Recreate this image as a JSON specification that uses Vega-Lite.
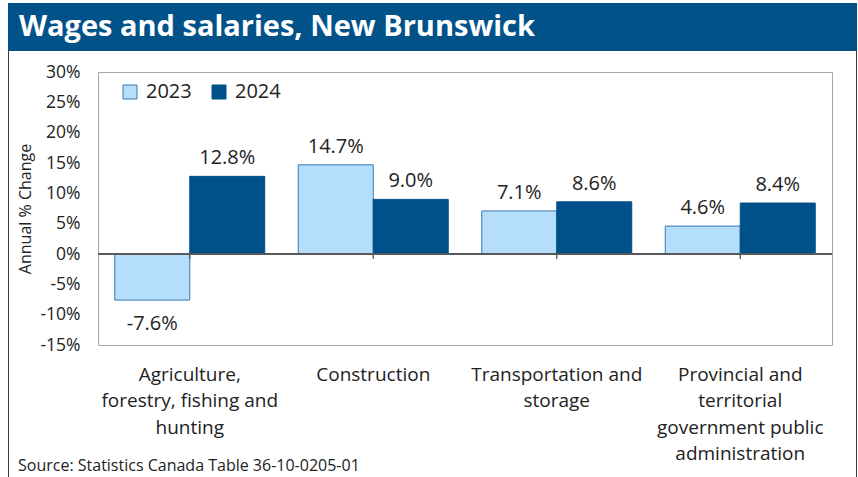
{
  "$schema": "https://vega.github.io/schema/vega-lite/v6.json",
  "padding": {"left": 8, "top": 3, "right": 0, "bottom": 0},
  "background": "white",
  "spacing": 0,
  "title": {
    "text": "Source: Statistics Canada Table 36-10-0205-01",
    "orient": "bottom",
    "anchor": "start",
    "frame": "bounds",
    "font": "Open Sans",
    "fontSize": 16,
    "fontWeight": "normal",
    "color": "#222222",
    "offset": -19,
    "dx": 10
  },
  "config": {
    "font": "Open Sans",
    "locale": {"number": {"decimal": ".", "thousands": ",", "grouping": [3], "currency": ["$", ""], "minus": "-"}},
    "axisY": {"labelOverlap": false, "labelFlush": false},
    "legend": {
      "orient": "none",
      "legendX": 22,
      "legendY": 10,
      "direction": "horizontal",
      "symbolType": "square",
      "symbolSize": 196,
      "symbolStrokeWidth": 1,
      "labelFont": "Open Sans",
      "labelFontSize": 20,
      "labelColor": "#222222",
      "labelOffset": 6,
      "columnPadding": 17,
      "padding": 0,
      "title": null
    }
  },
  "vconcat": [
    {
      "width": 849,
      "height": 48,
      "view": {"fill": "#02528a", "stroke": null},
      "data": {"values": [{"t": "Wages and salaries, New Brunswick"}]},
      "mark": {"type": "text", "align": "left", "baseline": "middle", "font": "Open Sans", "fontSize": 29, "fontWeight": "bold", "color": "white"},
      "encoding": {
        "text": {"field": "t"},
        "x": {"value": 11},
        "y": {"value": 24}
      }
    },
    {
      "spacing": 8,
      "resolve": {"legend": {"color": "independent", "stroke": "independent"}},
      "hconcat": [
        {
          "width": 1,
          "height": 426,
          "view": {"fill": "#3a3a3a", "stroke": null},
          "data": {"values": []},
          "mark": "point"
        },
        {
          "spacing": 10,
          "resolve": {"legend": {"color": "independent", "stroke": "independent"}},
          "vconcat": [
            {
              "width": 750,
              "height": 1,
              "view": {"stroke": null},
              "data": {"values": []},
              "mark": "point"
            },
            {
              "width": 734,
              "height": 273,
              "view": {"stroke": "#a6a6a6", "strokeWidth": 1},
              "data": {
                "values": [
                  {"category": "Agriculture,|forestry, fishing and|hunting", "year": "2023", "value": -0.076},
                  {"category": "Agriculture,|forestry, fishing and|hunting", "year": "2024", "value": 0.128},
                  {"category": "Construction", "year": "2023", "value": 0.147},
                  {"category": "Construction", "year": "2024", "value": 0.090},
                  {"category": "Transportation and|storage", "year": "2023", "value": 0.071},
                  {"category": "Transportation and|storage", "year": "2024", "value": 0.086},
                  {"category": "Provincial and|territorial|government public|administration", "year": "2023", "value": 0.046},
                  {"category": "Provincial and|territorial|government public|administration", "year": "2024", "value": 0.084}
                ]
              },
              "encoding": {
                "y": {
                  "field": "value", "type": "quantitative",
                  "scale": {"domain": [-0.15, 0.3], "nice": false, "zero": false},
                  "axis": {
                    "title": "Annual % Change",
                    "format": ".0%",
                    "values": [-0.15, -0.1, -0.05, 0, 0.05, 0.1, 0.15, 0.2, 0.25, 0.3],
                    "grid": false,
                    "domain": false,
                    "ticks": false,
                    "labelOverlap": false,
                    "labelFlush": false,
                    "labelFont": "Open Sans",
                    "labelFontSize": 17.5,
                    "labelColor": "#222222",
                    "labelPadding": 18,
                    "titleFont": "Open Sans",
                    "titleFontSize": 16,
                    "titleFontWeight": "normal",
                    "titleColor": "#222222",
                    "titlePadding": 6
                  }
                }
              },
              "layer": [
                {
                  "mark": {"type": "bar", "strokeWidth": 1},
                  "encoding": {
                    "x": {
                      "field": "category", "type": "nominal", "sort": null,
                      "scale": {"paddingInner": 0.1826, "paddingOuter": 0.0913},
                      "axis": {
                        "title": null,
                        "labelExpr": "split(datum.label, '|')",
                        "labelAngle": 0,
                        "ticks": false,
                        "domain": false,
                        "labelFont": "Open Sans",
                        "labelFontSize": 19,
                        "labelLineHeight": 26.5,
                        "labelPadding": 20,
                        "labelColor": "#222222",
                        "labelLimit": 400
                      }
                    },
                    "xOffset": {"field": "year", "type": "nominal"},
                    "color": {
                      "field": "year", "type": "nominal",
                      "scale": {"domain": ["2023", "2024"], "range": ["#b5defc", "#00508a"]}
                    },
                    "stroke": {
                      "field": "year", "type": "nominal",
                      "scale": {"domain": ["2023", "2024"], "range": ["#3b78b4", "#00508a"]}
                    }
                  }
                },
                {
                  "mark": {"type": "rule", "color": "#595959", "strokeWidth": 1.3},
                  "encoding": {"y": {"datum": 0}}
                },
                {
                  "mark": {"type": "rule", "color": "#595959", "strokeWidth": 1},
                  "encoding": {
                    "x": {"field": "category", "type": "nominal", "sort": null},
                    "y": {"datum": 0},
                    "y2": {"datum": -0.008}
                  }
                },
                {
                  "transform": [{"filter": "datum.value >= 0"}],
                  "mark": {"type": "text", "baseline": "alphabetic", "dy": -12, "fontSize": 20, "font": "Open Sans", "color": "#222222"},
                  "encoding": {
                    "x": {"field": "category", "type": "nominal", "sort": null},
                    "xOffset": {"field": "year", "type": "nominal"},
                    "text": {"field": "value", "type": "quantitative", "format": ".1%"}
                  }
                },
                {
                  "transform": [{"filter": "datum.value < 0"}],
                  "mark": {"type": "text", "baseline": "alphabetic", "dy": 30, "fontSize": 20, "font": "Open Sans", "color": "#222222"},
                  "encoding": {
                    "x": {"field": "category", "type": "nominal", "sort": null},
                    "xOffset": {"field": "year", "type": "nominal"},
                    "text": {"field": "value", "type": "quantitative", "format": ".1%"}
                  }
                }
              ]
            }
          ]
        },
        {
          "width": 1,
          "height": 426,
          "view": {"fill": "#3a3a3a", "stroke": null},
          "data": {"values": []},
          "mark": "point"
        }
      ]
    }
  ]
}
